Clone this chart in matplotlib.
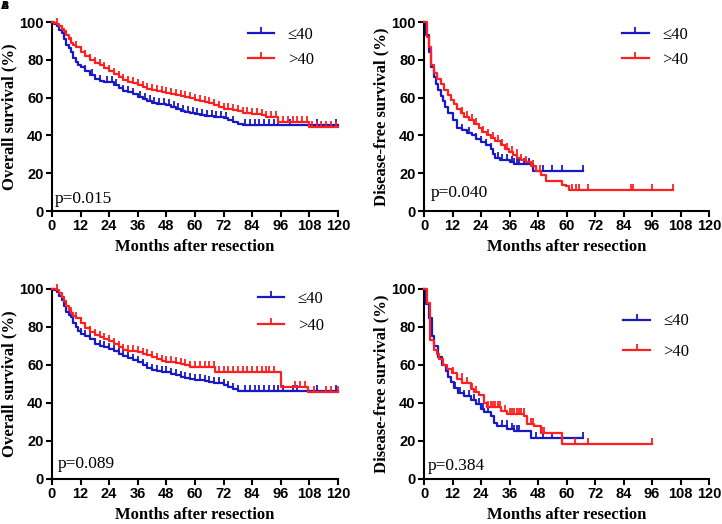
import numpy as np
import matplotlib
matplotlib.use("Agg")
import matplotlib.pyplot as plt
from matplotlib.lines import Line2D

BLUE = "#1818c8"
RED = "#ff1f1f"
SERIF = "Liberation Serif"
SANS = "Liberation Sans"

GROUPS = ["\u226440", ">40"]
XTICKS = list(range(0, 121, 12))
YTICKS = list(range(0, 101, 20))

# ---- panel 1 : overall survival, cohort 1 --------------------------------
os1_le_t = [0, 1, 2, 3, 4, 5, 6, 7, 8, 9, 10, 11, 12, 14, 16, 18, 20, 22, 24, 26, 28, 30, 32, 34,
            36, 38, 40, 42, 44, 46, 48, 50, 52, 54, 56, 58, 60, 62, 64, 66, 68, 70, 72, 74, 76,
            78, 80, 120]
os1_le_s = [100, 99, 98, 96, 94, 91, 88, 86, 84, 81, 79, 77, 76, 74, 72, 70, 69, 68.5, 68, 66.5,
            65, 63.5, 63, 62, 60.5, 59.5, 58, 57, 56.5, 56.5, 56, 55, 54, 53, 52.5, 52, 51.5, 51,
            50.5, 50.5, 50, 50, 49, 48, 47, 46, 45.6, 45.6]
os1_le_c = [14, 17, 20, 23, 25, 27, 30, 32, 34, 37, 39, 41, 43, 45, 47, 49, 51, 53, 55, 57, 59,
            61, 63, 65, 67, 69, 71, 73, 76, 81, 83, 85, 87, 89, 91, 93, 95, 100, 111, 119]
os1_gt_t = [0, 1, 2, 3, 4, 5, 6, 7, 8, 9, 10, 12, 14, 16, 18, 20, 22, 24, 26, 28, 30, 32, 34, 36,
            38, 40, 42, 44, 46, 48, 50, 52, 54, 56, 58, 60, 62, 64, 66, 68, 70, 72, 76, 78, 80,
            84, 88, 90, 92, 95, 108, 120]
os1_gt_s = [100, 99.5, 99, 98, 96.5, 95, 93, 91, 89, 88, 87, 84, 82, 80, 78.5, 77, 75.5, 74,
            72.5, 71, 69.5, 68.5, 67.5, 66.5, 65.5, 64.5, 64, 63.5, 63, 62.5, 62, 61.5, 61, 60.5,
            60, 59, 58, 57.5, 57, 56, 55, 54, 53.5, 53, 52, 51.5, 51, 50, 49.5, 47.3, 44.6, 44.6]
os1_gt_c = [2, 8, 10, 12, 14, 16, 18, 20, 22, 24, 26, 28, 30, 32, 34, 36, 38, 40, 42, 44, 46, 48,
            50, 52, 54, 56, 58, 60, 62, 64, 66, 68, 70, 72, 74, 76, 78, 80, 82, 84, 86, 88, 90,
            92, 94, 97, 99, 101, 103, 105, 107, 109, 111, 113, 115, 117, 119]

# ---- panel 2 : disease-free survival, cohort 1 ---------------------------
dfs1_le_t = [0, 1, 2, 3, 4, 5, 6, 7, 8, 9, 10, 12, 14, 16, 18, 20, 22, 24, 26, 28, 29, 30, 32,
             36, 38, 46, 67]
dfs1_le_s = [100, 93, 84, 76, 71, 67, 64, 61, 58, 55, 52, 48, 44, 43, 41.5, 40, 38, 36.5, 35,
             33, 30, 28, 27, 26, 25, 21, 21]
dfs1_le_c = [14, 16, 19, 22, 24, 26, 28, 31, 33, 35, 37, 38, 39, 40, 42, 44, 50, 54, 58, 67]
dfs1_gt_t = [0, 1.4, 2.1, 3.1, 4.2, 5.6, 7, 8.4, 10, 11.2, 12.5, 14, 15.5, 16.8, 19, 21, 23,
             24.6, 26.5, 28, 30, 32.3, 34, 35.8, 37.5, 39.3, 41, 42.8, 45, 47, 49.1, 51.2, 58.2,
             59.6, 61, 105]
dfs1_gt_s = [100, 92, 87, 77, 73, 70, 67, 64, 61.5, 59, 56.5, 54, 52, 50, 48, 46, 44, 42, 40,
             38.5, 37, 35, 33, 31, 29.5, 28, 27, 26, 24, 21, 19, 16, 14, 13, 11, 11]
dfs1_gt_c = [16, 18, 20, 22, 25, 27, 29, 31, 33, 35, 37, 39, 41, 43, 46, 49, 62.5, 64, 65.3,
             69.2, 87, 88.1, 96.1, 105]

# ---- panel 3 : overall survival, cohort 2 --------------------------------
os2_le_t = [0, 1, 2, 3, 4, 5, 6, 7, 8, 9, 10, 11, 12, 14, 16, 18, 20, 22, 24, 26, 28, 30, 32, 34,
            36, 38, 40, 42, 44, 46, 48, 50, 52, 54, 56, 58, 60, 62, 64, 66, 68, 70, 72, 74, 76,
            78, 80, 120]
os2_le_s = [100, 99.5, 98.5, 96.5, 94, 91, 88, 86.5, 85, 82, 80, 78, 76.5, 75, 73.5, 71, 70,
            69.5, 68.5, 67.5, 66, 64.5, 63.5, 62.5, 61.5, 60, 58.5, 57.5, 57, 56.5, 56.5, 55.5,
            54.5, 53.5, 53, 52.5, 52, 52, 51.5, 51, 50.5, 50.5, 49.5, 48.5, 47.5, 46.5, 46.3, 46.3]
os2_le_c = [12, 14, 16, 18, 20, 22, 24, 26, 28, 30, 32, 34, 36, 38, 40, 42, 44, 46, 48, 50, 52,
            54, 56, 58, 60, 62, 64, 66, 68, 70, 72, 74, 76, 78, 81, 83, 85, 87, 89, 91, 93, 95,
            97, 101, 103, 111, 119]
os2_gt_t = [0, 1, 2, 3, 4, 5, 6, 7, 8, 9, 10, 12, 14, 16, 18, 20, 22, 24, 26, 28, 30, 32, 34, 36,
            38, 40, 42, 44, 46, 48, 50, 52, 54, 56, 58, 68.5, 96, 107.5, 120]
os2_gt_s = [100, 100, 99.5, 98, 96, 93.5, 91, 89, 87.5, 86, 84.5, 82, 79.5, 77.5, 76, 74.5, 73.5,
            72.5, 71, 69.5, 68, 67.5, 67.5, 67, 66, 65, 64, 63, 62, 61.5, 61.5, 61, 60.5, 60, 59,
            56.3, 48.6, 46, 46]
os2_gt_c = [2, 8, 10, 12, 14, 16, 18, 20, 22, 24, 26, 28, 30, 32, 34, 36, 38, 40, 42, 44, 46, 48,
            50, 52, 54, 56, 58, 60, 62, 64, 66, 68, 70, 72, 74, 76, 78, 80, 82, 84, 86, 88, 90,
            91, 93, 102, 104, 106, 110, 115, 117, 120]

# ---- panel 4 : disease-free survival, cohort 2 ---------------------------
dfs2_le_t = [0, 1, 2.1, 3.2, 4.2, 6, 7.7, 9.1, 10.1, 11.2, 12.6, 14.3, 16.8, 19.6, 21.8, 23.9,
             25.3, 28.1, 29.5, 30.9, 35.1, 37.9, 44.9, 67]
dfs2_le_s = [100, 92, 84.5, 75, 70, 64, 60, 57, 53.5, 51, 48, 45, 43.5, 41.5, 39.5, 37, 35, 33,
             29.5, 28, 26.5, 25, 21.5, 21.5]
dfs2_le_c = [13, 15, 17, 19, 21, 23, 25, 27, 33, 35, 37, 38, 39, 40, 47, 50, 54, 67]
dfs2_gt_t = [0, 1.1, 2.5, 4.2, 5.3, 6.3, 8.1, 9.5, 11.9, 14, 16.1, 19.6, 21, 23.2, 25.3, 26.7,
             32.3, 35.1, 42.1, 43.5, 46.3, 49.1, 58.2, 96]
dfs2_gt_s = [100, 92.4, 73, 68, 66, 63, 60, 58, 56, 52.7, 50.5, 47.5, 46, 44, 40, 38, 36, 34, 33,
             29, 28, 24.3, 18.3, 18.3]
dfs2_gt_c = [12, 14, 16, 18, 20, 22, 27, 28, 29, 30, 31, 32, 34, 36, 37, 38, 39, 40, 41, 42, 45,
             46, 49.5, 50.5, 63.5, 69, 96]

PANELS = [
    dict(pos=[0.0720, 0.5973, 0.3961, 0.3607], ylabel="Overall survival (%)", p="p=0.015",
         le=(os1_le_t, os1_le_s, os1_le_c), gt=(os1_gt_t, os1_gt_s, os1_gt_c),
         leg=(0.655, 1.02), lsp=0.55, ptxt=(0.008, 0.065)),
    dict(pos=[0.5873, 0.5973, 0.3947, 0.3607], ylabel="Disease-free survival (%)", p="p=0.040",
         le=(dfs1_le_t, dfs1_le_s, dfs1_le_c), gt=(dfs1_gt_t, dfs1_gt_s, dfs1_gt_c),
         leg=(0.665, 1.02), lsp=0.55, ptxt=(0.022, 0.095)),
    dict(pos=[0.0720, 0.0859, 0.3961, 0.3626], ylabel="Overall survival (%)", p="p=0.089",
         le=(os2_le_t, os2_le_s, os2_le_c), gt=(os2_gt_t, os2_gt_s, os2_gt_c),
         leg=(0.69, 1.035), lsp=0.65, ptxt=(0.02, 0.08)),
    dict(pos=[0.5873, 0.0859, 0.3947, 0.3626], ylabel="Disease-free survival (%)", p="p=0.384",
         le=(dfs2_le_t, dfs2_le_s, dfs2_le_c), gt=(dfs2_gt_t, dfs2_gt_s, dfs2_gt_c),
         leg=(0.67, 0.915), lsp=0.85, ptxt=(0.012, 0.07)),
]

# censor tick: short vertical stroke sitting on the curve
CENSOR = [(0, 0), (0, 1)]


def draw_km(ax, t, s, c, color):
    t = np.asarray(t, float)
    s = np.asarray(s, float)
    ax.step(t, s, where="post", color=color, lw=1.6, clip_on=False, zorder=3)
    idx = np.searchsorted(t, np.asarray(c, float), side="right") - 1
    ax.plot(c, s[idx], ls="none", marker=CENSOR, ms=8, mew=1.3, mec=color,
            clip_on=False, zorder=3)


fig = plt.figure(figsize=(7.22, 5.24), dpi=100)

for pan in PANELS:
    ax = fig.add_axes(pan["pos"])
    draw_km(ax, *pan["le"], BLUE)
    draw_km(ax, *pan["gt"], RED)
    ax.set_xlim(0, 120)
    ax.set_ylim(0, 100)
    ax.set_xticks(XTICKS)
    ax.set_yticks(YTICKS)
    for sp in ["top", "right"]:
        ax.spines[sp].set_visible(False)
    for sp in ["left", "bottom"]:
        ax.spines[sp].set_linewidth(1.5)
    ax.tick_params(width=1.5, length=4, pad=2, labelsize=10.5)
    for lab in ax.get_xticklabels() + ax.get_yticklabels():
        lab.set_fontfamily(SANS)
        lab.set_fontweight("bold")
    ax.set_xlabel("Months after resection", fontfamily=SERIF, fontweight="bold",
                  fontsize=12, labelpad=4)
    ax.set_ylabel(pan["ylabel"], fontfamily=SERIF, fontweight="bold", fontsize=12,
                  labelpad=1)
    ax.text(pan["ptxt"][0], pan["ptxt"][1], pan["p"], transform=ax.transAxes,
            fontfamily=SERIF, fontsize=12.5, va="center", ha="left")
    handles = [Line2D([], [], color=BLUE, lw=1.6, marker=CENSOR, ms=8, mew=1.3),
               Line2D([], [], color=RED, lw=1.6, marker=CENSOR, ms=8, mew=1.3)]
    ax.legend(handles, GROUPS, loc="upper left", bbox_to_anchor=pan["leg"], frameon=False,
              prop={"family": SERIF, "size": 12}, handlelength=1.6, handletextpad=0.8,
              labelspacing=pan["lsp"], borderpad=0, numpoints=1)

fig.text(0.002, 0.998, "A", fontsize=7, fontweight="bold", va="top", ha="left")
fig.text(0.002, 0.998, "B", fontsize=7, fontweight="bold", va="top", ha="left")

fig.savefig("out.png", dpi=100)
